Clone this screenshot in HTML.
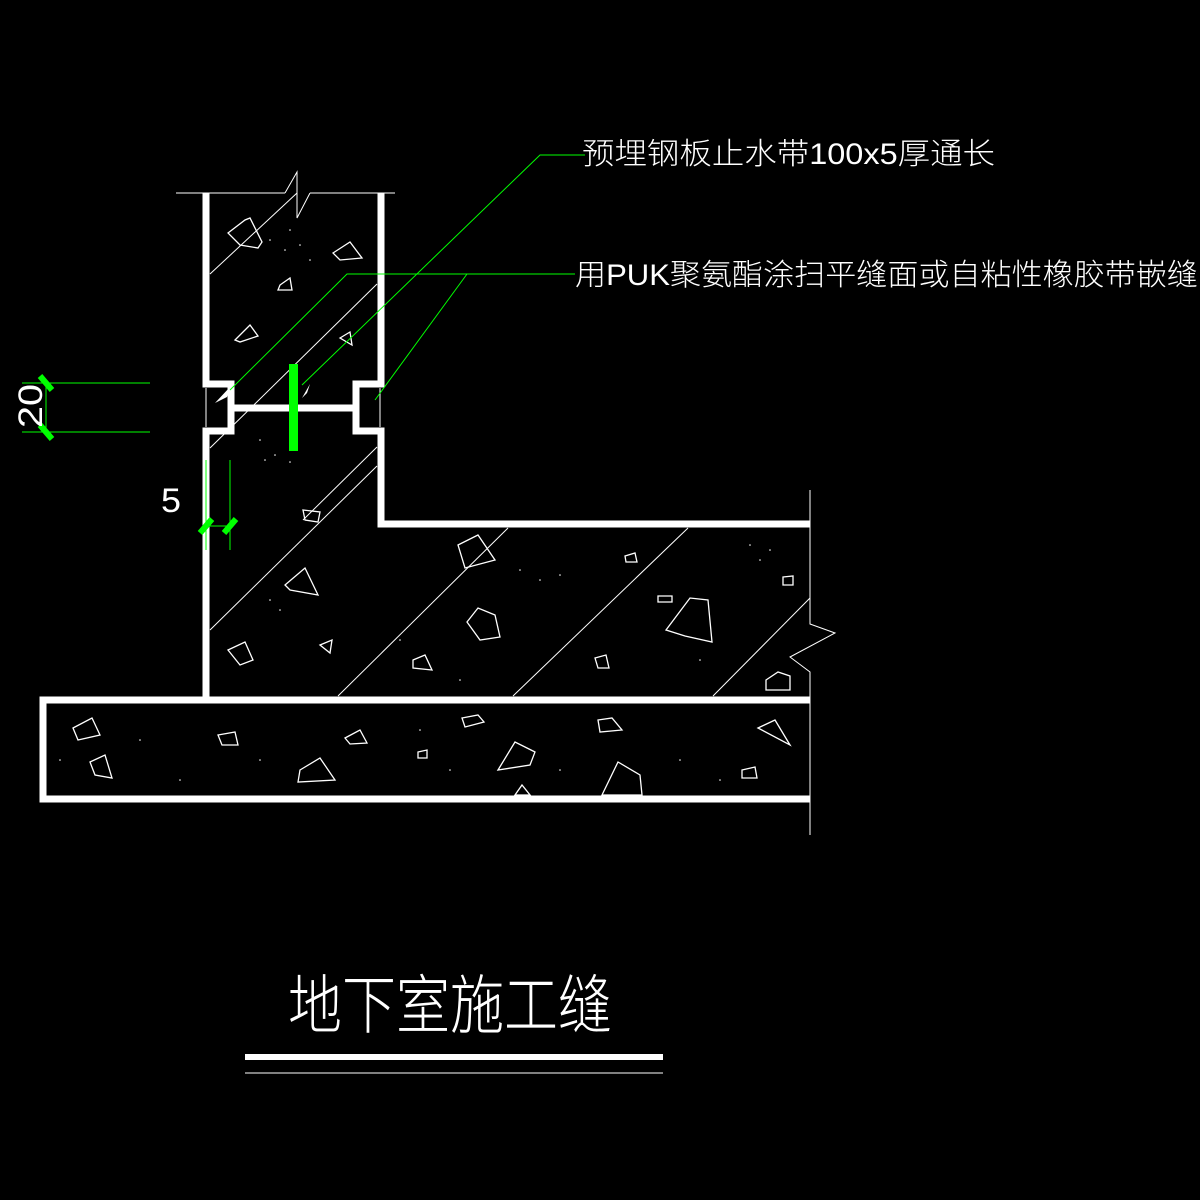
<!DOCTYPE html>
<html><head><meta charset="utf-8"><style>
html,body{margin:0;padding:0;background:#000;width:1200px;height:1200px;overflow:hidden}
</style></head><body>
<svg width="1200" height="1200" viewBox="0 0 1200 1200" xmlns="http://www.w3.org/2000/svg">
<rect width="1200" height="1200" fill="#000"/>
<g stroke="#fff" stroke-width="1" fill="none">
<line x1="210" y1="274" x2="297" y2="193"/>
<line x1="210" y1="448" x2="377" y2="284"/>
<line x1="210" y1="630" x2="377" y2="466"/>
<line x1="303" y1="520" x2="377" y2="447"/>
<line x1="338" y1="696" x2="508" y2="528"/>
<line x1="513" y1="696" x2="688" y2="528"/>
<line x1="713" y1="696" x2="810" y2="598"/>
<line x1="176" y1="193" x2="285" y2="193"/>
<line x1="310" y1="193" x2="395" y2="193"/>
<polyline points="285,193 297,172 297,218 310,193"/>
<polyline points="810,490 810,624 835,633 790,657 810,672 810,835"/>
<line x1="206" y1="388" x2="206" y2="427"/>
<line x1="380" y1="388" x2="380" y2="427"/>
<line x1="245" y1="1073" x2="663" y2="1073"/>
</g>
<g stroke="#fff" stroke-width="7" fill="none" stroke-linejoin="miter">
<polyline points="206,193 206,384 231,384 231,431 206,431 206,700 810,700"/>
<polyline points="381,193 381,384 356,384 356,431 381,431 381,524 810,524"/>
<line x1="231" y1="408" x2="356" y2="408"/>
<polyline points="810,799 43,799 43,700 206,700"/>
</g>
<rect x="245" y="1054" width="418" height="6" fill="#fff"/>
<g stroke="#fff" stroke-width="1.3" fill="none">
<path d="M228,233 L245,220 L250,218 L262,242 L258,248 L240,245 Z"/>
<path d="M333,253 L350,242 L362,258 L340,260 Z"/>
<path d="M280,285 L290,278 L292,290 L278,290 Z"/>
<path d="M235,340 L250,325 L258,336 L240,342 Z"/>
<path d="M340,338 L350,332 L352,345 Z"/>
<path d="M303,510 L320,512 L318,522 L305,520 Z"/>
<path d="M458,545 L478,535 L495,560 L465,568 Z"/>
<path d="M625,556 L635,553 L637,562 L626,562 Z"/>
<path d="M783,577 L793,576 L793,585 L783,585 Z"/>
<path d="M285,585 L305,568 L318,595 L290,590 Z"/>
<path d="M467,622 L478,608 L495,615 L500,637 L480,640 Z"/>
<path d="M666,630 L690,598 L708,600 L712,642 L685,636 Z"/>
<path d="M658,596 L672,596 L672,602 L658,602 Z"/>
<path d="M228,650 L245,642 L253,660 L240,665 Z"/>
<path d="M320,645 L332,640 L330,653 Z"/>
<path d="M413,660 L425,655 L432,670 L413,668 Z"/>
<path d="M595,658 L606,655 L609,668 L598,668 Z"/>
<path d="M766,680 L778,672 L790,676 L790,690 L766,690 Z"/>
<path d="M73,728 L92,718 L100,735 L78,740 Z"/>
<path d="M90,762 L105,755 L112,778 L95,775 Z"/>
<path d="M218,735 L235,732 L238,745 L222,745 Z"/>
<path d="M345,738 L360,730 L367,743 L350,744 Z"/>
<path d="M300,770 L320,758 L335,780 L298,782 Z"/>
<path d="M418,752 L427,750 L427,758 L418,758 Z"/>
<path d="M462,718 L478,715 L484,722 L465,727 Z"/>
<path d="M498,770 L515,742 L535,752 L530,765 Z"/>
<path d="M515,795 L522,785 L530,795 Z"/>
<path d="M598,720 L612,718 L622,730 L600,732 Z"/>
<path d="M602,795 L618,762 L640,775 L642,795 Z"/>
<path d="M742,770 L755,767 L757,778 L742,778 Z"/>
<path d="M758,728 L775,720 L790,745 Z"/>
</g>
<g fill="#fff">
<circle cx="270" cy="240" r="0.8"/><circle cx="290" cy="230" r="0.8"/><circle cx="300" cy="245" r="0.8"/><circle cx="285" cy="250" r="0.8"/><circle cx="310" cy="260" r="0.8"/>
<circle cx="260" cy="440" r="0.8"/><circle cx="275" cy="455" r="0.8"/><circle cx="265" cy="460" r="0.8"/><circle cx="290" cy="462" r="0.8"/>
<circle cx="520" cy="570" r="0.8"/><circle cx="540" cy="580" r="0.8"/><circle cx="560" cy="575" r="0.8"/><circle cx="750" cy="545" r="0.8"/><circle cx="770" cy="550" r="0.8"/><circle cx="760" cy="560" r="0.8"/>
<circle cx="270" cy="600" r="0.8"/><circle cx="280" cy="610" r="0.8"/><circle cx="400" cy="640" r="0.8"/><circle cx="460" cy="680" r="0.8"/><circle cx="700" cy="660" r="0.8"/>
<circle cx="60" cy="760" r="0.8"/><circle cx="140" cy="740" r="0.8"/><circle cx="180" cy="780" r="0.8"/><circle cx="260" cy="760" r="0.8"/><circle cx="420" cy="730" r="0.8"/><circle cx="450" cy="770" r="0.8"/><circle cx="560" cy="770" r="0.8"/><circle cx="680" cy="760" r="0.8"/><circle cx="720" cy="780" r="0.8"/>
</g>
<g stroke="#0f0" stroke-width="1" fill="none">
<polyline points="230,390 347,274 575,274"/>
<polyline points="375,400 467,274"/>
<polyline points="302,385 540,155 585,155"/>
<line x1="22" y1="383" x2="150" y2="383"/>
<line x1="22" y1="432" x2="150" y2="432"/>
<line x1="46" y1="383" x2="46" y2="432"/>
<line x1="206" y1="460" x2="206" y2="550"/>
<line x1="230" y1="460" x2="230" y2="550"/>
<line x1="206" y1="526" x2="230" y2="526"/>
</g>
<g stroke="#0f0" stroke-width="6">
<line x1="40" y1="376" x2="52" y2="390"/>
<line x1="40" y1="425" x2="52" y2="439"/>
<line x1="200" y1="533" x2="212" y2="519"/>
<line x1="224" y1="533" x2="236" y2="519"/>
</g>
<rect x="289" y="364" width="9" height="87" fill="#0f0"/>
<path d="M215,403 L230,387 L227,397 Z M302,398 L310,384 L307,393 Z" fill="#fff"/>
<g font-family="'Liberation Sans','Noto Sans CJK SC',sans-serif" fill="#fff" font-weight="300">
<text x="582" y="164" font-size="30" textLength="413" lengthAdjust="spacingAndGlyphs">预埋钢板止水带100x5厚通长</text>
<text x="575" y="285" font-size="30" textLength="623" lengthAdjust="spacingAndGlyphs">用PUK聚氨酯涂扫平缝面或自粘性橡胶带嵌缝</text>
<text x="161" y="512" font-size="34" textLength="20" lengthAdjust="spacingAndGlyphs">5</text>
<text transform="translate(42,428) rotate(-90)" font-size="34" textLength="44" lengthAdjust="spacingAndGlyphs">20</text>
<text x="288" y="1028" font-size="64" textLength="324" lengthAdjust="spacingAndGlyphs">地下室施工缝</text>
</g>
</svg>
</body></html>
